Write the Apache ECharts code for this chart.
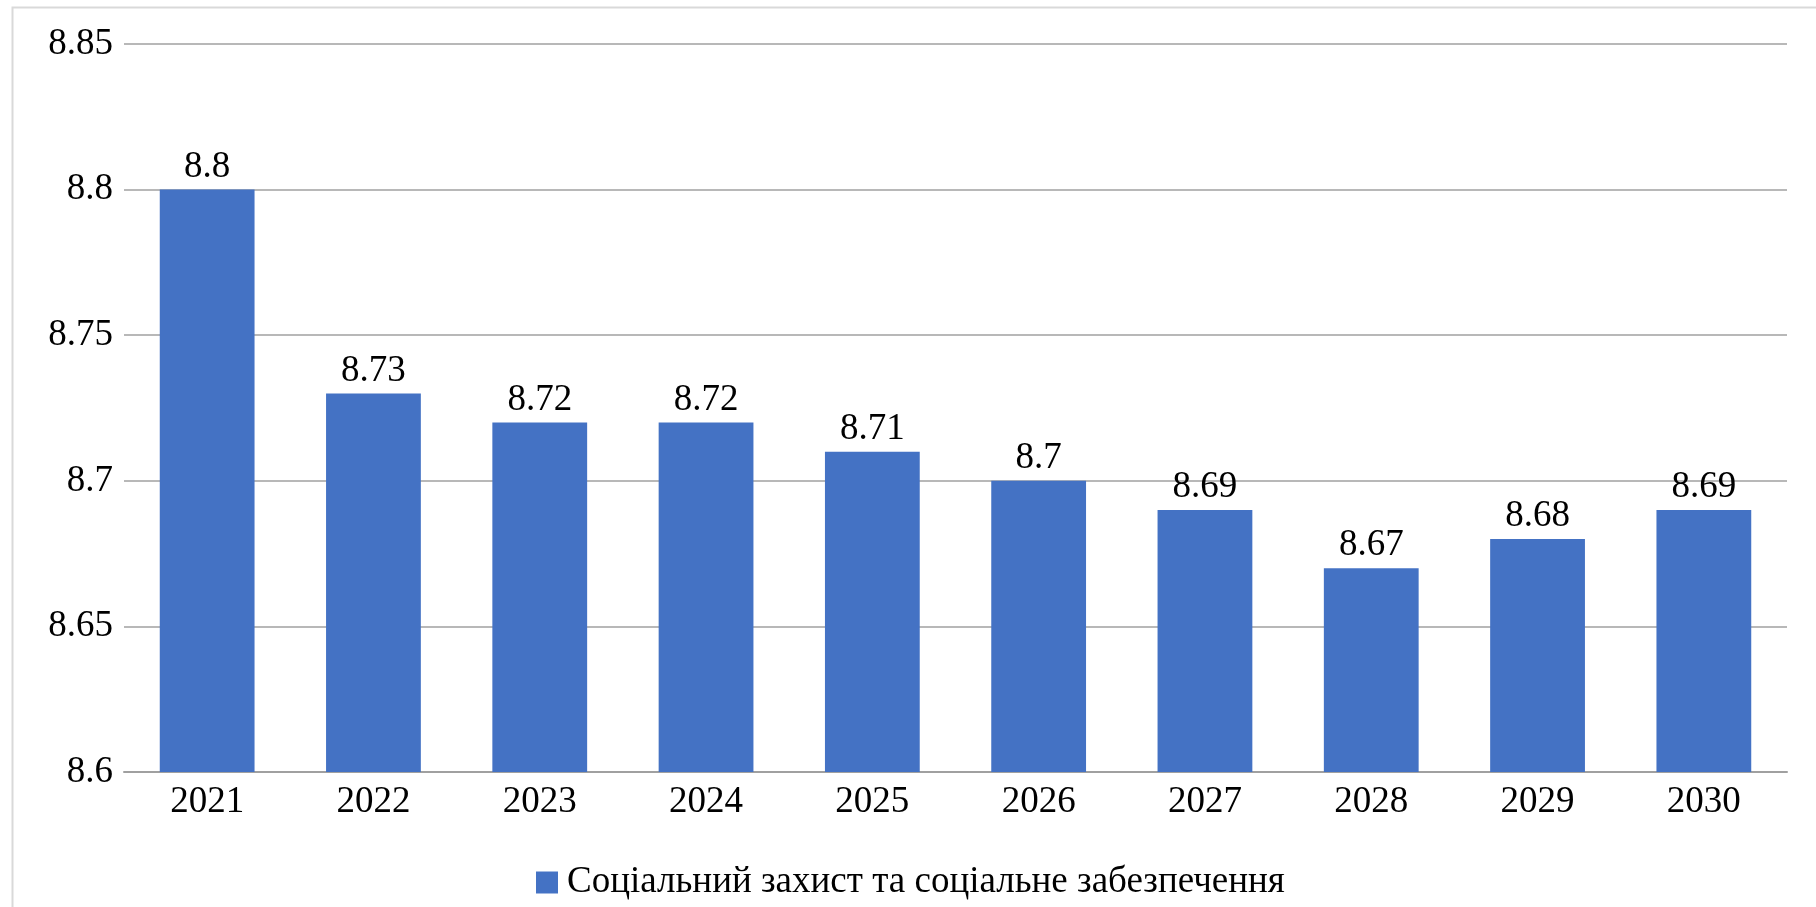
<!DOCTYPE html>
<html>
<head>
<meta charset="utf-8">
<script src="https://cdn.jsdelivr.net/npm/echarts@6/dist/echarts.min.js"></script>
<style>
html,body{margin:0;padding:0;background:#fff;}
#chart{width:1816px;height:907px;}
</style>
</head>
<body>
<div id="chart"></div>
<script>
const categories = ['2021','2022','2023','2024','2025','2026','2027','2028','2029','2030'];
const values = [8.8, 8.73, 8.72, 8.72, 8.71, 8.7, 8.69, 8.67, 8.68, 8.69];
const seriesName = 'Соціальний захист та соціальне забезпечення';

const chart = echarts.init(document.getElementById('chart'));
const font = '"Liberation Serif", "Times New Roman", serif';
chart.setOption({
  animation: false,
  backgroundColor: '#fff',
  graphic: [{
    type: 'rect', left: 10, top: 5, silent: true,
    shape: { width: 1830, height: 920 },
    style: { fill: 'none', stroke: '#d9d9d9', lineWidth: 2 }
  }],
  grid: { left: 124, right: 29, top: 44, bottom: 135 },
  legend: {
    top: 859, left: 531,
    itemWidth: 22, itemHeight: 22, itemGap: 10,
    icon: 'rect',
    textStyle: { fontFamily: font, fontSize: 37, color: '#000', padding: [0,0,0,4] },
    data: [seriesName]
  },
  xAxis: {
    type: 'category', data: categories,
    axisLine: { lineStyle: { color: '#a0a0a0', width: 2 } },
    axisTick: { show: false },
    axisLabel: { fontFamily: font, fontSize: 37, color: '#000', margin: 12 }
  },
  yAxis: {
    type: 'value', min: 8.6, max: 8.85, interval: 0.05,
    axisLine: { show: false }, axisTick: { show: false },
    splitLine: { lineStyle: { color: '#a0a0a0', width: 1.5 } },
    axisLabel: { fontFamily: font, fontSize: 37, color: '#000', margin: 11,
      formatter: v => String(parseFloat(v.toFixed(2))) }
  },
  series: [{
    name: seriesName, type: 'bar', data: values,
    barWidth: '57%',
    itemStyle: { color: '#4472C4' },
    label: { show: true, position: 'top', distance: 4, fontFamily: font, fontSize: 37, color: '#000' }
  }]
});
</script>
</body>
</html>
